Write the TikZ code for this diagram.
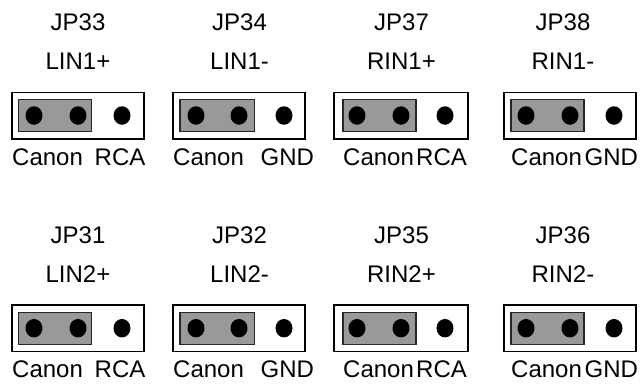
\documentclass[tikz,border=0pt]{standalone}
\usepackage{fontspec}
\setmainfont{Liberation Sans}
\usetikzlibrary{shapes.geometric}
\tikzset{
  x=1pt,y=-1pt,
  boardbox/.style={draw=black,fill=white,line width=1.3pt},
  shunt/.style={draw=black!85,fill=black!40,line width=1.3pt},
  pin/.style={ellipse,fill=black,inner sep=0pt,minimum width=17pt,minimum height=18.5pt},
  lbl/.style={inner sep=0pt,font=\fontsize{24}{24}\selectfont,text=black},
  ctr/.style={lbl,anchor=base},
  lft/.style={lbl,anchor=base west},
}
% #1 row offset, #2 box left, #3 box right, #4 shunt left, #5 shunt right,
% #6,#7,#8 pin x, #9 name
\newcommand{\jumperblock}[9]{%
  \begin{scope}[yshift=-#1pt]
    \draw[boardbox] (#2,92.3) rectangle (#3,139);
    \draw[shunt] (#4,99.5) rectangle (#5,131.7);
    \node[pin] (#9a) at (#6,115.5) {};
    \node[pin] (#9b) at (#7,115.5) {};
    \node[pin] (#9c) at (#8,115.5) {};
  \end{scope}}
% #1 row offset, #2 centre x, #3 top, #4 second, #5 left label x, #6 left label,
% #7 right label x, #8 right label, #9 name
\newcommand{\jumpertext}[9]{%
  \begin{scope}[yshift=-#1pt]
    \node[ctr] (#9t) at (#2,30.5) {#3};
    \node[ctr] (#9s) at (#2,69.5) {#4};
    \node[lft] (#9l) at (#5,165) {#6};
    \node[lft] (#9r) at (#7,165) {#8};
  \end{scope}}
\begin{document}
\begin{tikzpicture}
\useasboundingbox[fill=white] (0,0) rectangle (640,383);
\jumperblock{0}{12}{144}{18.5}{91.5}{34}{78}{122}{A}
\jumperblock{0}{173}{305}{180}{254.5}{196}{239}{284}{B}
\jumperblock{0}{334}{468}{343}{416}{357}{401}{445}{C}
\jumperblock{0}{504}{636}{511}{584}{526}{570}{614}{D}
\jumperblock{212.7}{12}{144}{18.5}{91.5}{34}{78}{122}{E}
\jumperblock{212.7}{173}{305}{180}{254.5}{196}{239}{284}{F}
\jumperblock{212.7}{334}{468}{343}{416}{357}{401}{445}{G}
\jumperblock{212.7}{504}{636}{511}{584}{526}{570}{614}{H}
\jumpertext{0}{78}{JP33}{LIN1+}{12}{Canon}{94.5}{RCA}{A}
\jumpertext{0}{239.5}{JP34}{LIN1-}{173}{Canon}{260.5}{GND}{B}
\jumpertext{0}{401.5}{JP37}{RIN1+}{343}{Canon}{416}{RCA}{C}
\jumpertext{0}{563}{JP38}{RIN1-}{511}{Canon}{584.5}{GND}{D}
\jumpertext{212.7}{78}{JP31}{LIN2+}{12}{Canon}{94.5}{RCA}{E}
\jumpertext{212.7}{239.5}{JP32}{LIN2-}{173}{Canon}{260.5}{GND}{F}
\jumpertext{212.7}{401.5}{JP35}{RIN2+}{343}{Canon}{416}{RCA}{G}
\jumpertext{212.7}{563}{JP36}{RIN2-}{511}{Canon}{584.5}{GND}{H}
\end{tikzpicture}
\end{document}
